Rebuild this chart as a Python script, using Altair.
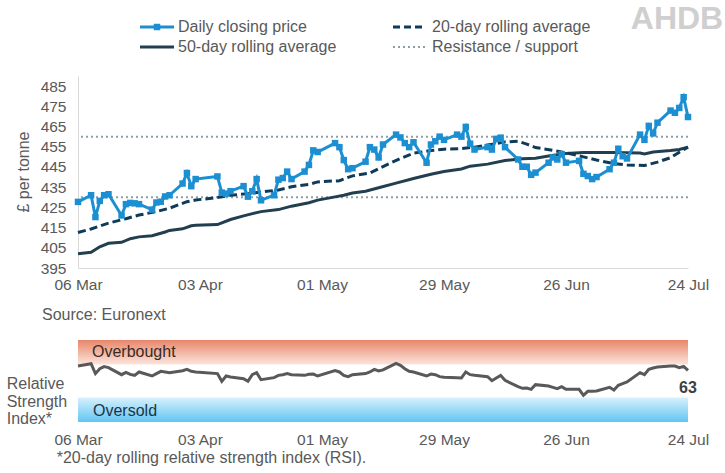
import altair as alt
import pandas as pd

# ---- data -------------------------------------------------------------
START = pd.Timestamp("2026-03-06")

# trading days, as day offsets from 6 March 2026
price_days = [0, 3, 4, 5, 6, 7, 10, 11, 12, 13, 14, 17, 18, 19, 20, 21,
              24, 25, 26, 27, 32, 33, 34, 35, 38, 39, 40, 41, 42,
              45, 46, 47, 48, 49, 52, 53, 54, 55, 59, 60, 61, 62, 63,
              66, 67, 68, 69, 70, 73, 74, 75, 76, 77, 80, 81, 82, 83, 84,
              87, 88, 89, 90, 91, 94, 95, 96, 97, 98, 101, 102, 103, 104, 105,
              108, 109, 110, 111, 112, 115, 116, 117, 118, 119,
              122, 123, 124, 125, 126, 129, 130, 131, 132, 133,
              136, 137, 138, 139, 140]
price = [427.7, 431.0, 420.2, 428.2, 431.0, 431.5, 421.0, 426.6, 427.2, 427.0, 426.6,
         423.9, 427.4, 427.8, 430.4, 431.0, 436.8, 442.0, 435.5, 439.0,
         440.3, 432.3, 431.8, 433.0, 435.5, 430.3, 433.0, 439.0, 428.5,
         431.0, 438.7, 439.5, 442.7, 439.0, 442.7, 446.0, 453.2, 452.4,
         456.8, 454.8, 448.4, 443.9, 444.4, 447.6, 454.8, 453.6, 449.7, 456.1,
         461.0, 459.6, 456.8, 454.8, 457.2, 447.1, 456.1, 457.7, 460.0, 458.4,
         461.0, 460.0, 464.8, 456.5, 453.6, 454.8, 453.6, 458.9, 459.5, 454.8,
         448.7, 445.1, 445.1, 441.1, 442.2, 447.1, 449.7, 448.7, 451.3, 447.1,
         448.0, 441.6, 440.5, 439.0, 440.0, 443.9, 447.1, 454.0, 450.3, 449.2,
         461.0, 458.4, 465.3, 461.6, 466.9, 472.9, 471.8, 474.2, 479.5, 469.7]

rsi = [68.3, 71.1, 59.0, 65.0, 67.5, 66.3, 57.7, 60.5, 58.0, 56.9, 61.0,
       56.1, 59.0, 61.8, 61.0, 60.2, 62.6, 64.2, 61.8, 61.0,
       59.0, 49.6, 56.1, 54.9, 52.8, 49.6, 57.7, 60.2, 51.6,
       54.1, 56.9, 57.7, 59.0, 57.7, 56.9, 58.1, 58.5, 56.1,
       62.6, 61.0, 56.9, 55.3, 57.7, 59.0, 61.0, 64.2, 62.2, 63.5,
       71.5, 69.1, 65.0, 61.8, 61.0, 56.1, 58.5, 57.7, 55.3, 54.5,
       54.1, 53.7, 61.0, 57.7, 56.9, 55.3, 50.4, 53.7, 56.9, 50.8,
       43.1, 41.1, 41.5, 39.8, 45.5, 43.9, 42.3, 40.7, 43.1, 39.8,
       39.8, 32.5, 37.4, 37.4, 37.8, 42.3, 39.0, 44.7, 46.8, 48.8,
       60.2, 57.7, 64.2, 65.9, 67.1, 68.3, 68.3, 66.3, 67.9, 63.0]

ma20_days = [0, 3, 7, 11, 14, 18, 21, 25, 27, 33, 35, 39, 42, 46, 49, 53, 55,
             60, 62, 63, 67, 70, 74, 77, 81, 84, 88, 91, 95, 98, 101, 103, 105,
             109, 112, 116, 119, 123, 126, 130, 133, 136, 138, 140]
ma20 = [412.6, 414.3, 417.2, 419.4, 421.2, 422.9, 424.6, 427.8, 428.6, 430.2, 431.0,
        431.8, 432.6, 433.6, 435.2, 436.4, 437.6, 438.2, 439.8, 440.6, 442.0, 445.2,
        449.2, 451.8, 453.1, 453.8, 454.1, 454.8, 456.2, 457.4, 457.7, 456.3, 454.6,
        453.2, 452.0, 450.0, 448.4, 446.6, 446.0, 445.7, 447.4, 449.6, 452.3, 454.8]

ma50_days = [0, 3, 5, 7, 10, 12, 14, 17, 20, 21, 24, 26, 27, 32, 35, 38, 42, 46,
             49, 53, 55, 59, 61, 63, 66, 69, 73, 77, 81, 84, 88, 90, 94, 98, 102,
             105, 108, 112, 116, 119, 123, 126, 129, 130, 132, 136, 138, 140]
ma50 = [402.1, 402.8, 405.5, 407.2, 407.7, 409.5, 410.4, 411.0, 412.8, 413.6, 414.4,
        415.9, 416.2, 416.5, 419.0, 420.8, 422.9, 423.9, 425.6, 427.3, 428.6, 430.2,
        431.0, 432.1, 433.0, 434.7, 437.0, 439.3, 441.4, 442.7, 444.0, 445.4, 446.4,
        448.2, 449.1, 449.3, 450.4, 451.6, 452.1, 452.1, 452.1, 452.0, 451.9, 451.4,
        452.4, 453.1, 453.6, 454.8]

levels = [460, 430]                       # resistance / support
tick_labels = ["2026-03-06", "2026-04-03", "2026-05-01",
               "2026-05-29", "2026-06-26", "2026-07-24"]
y_ticks = list(range(395, 486, 10))
legend_labels = ["Daily closing price", "20-day rolling average",
                 "50-day rolling average", "Resistance / support"]
rsi_bands = [("Overbought", 70, 100), ("Oversold", 0, 30)]


def to_dates(offsets):
    return [START + pd.Timedelta(days=d) for d in offsets]


price_df = pd.DataFrame({"date": to_dates(price_days), "value": price, "rsi": rsi})
ma20_df = pd.DataFrame({"date": to_dates(ma20_days), "value": ma20})
ma50_df = pd.DataFrame({"date": to_dates(ma50_days), "value": ma50})
level_df = pd.DataFrame({"value": levels})
band_df = pd.DataFrame(rsi_bands, columns=["band", "lo", "hi"])
last_rsi = price_df.tail(1)

# ---- styling -----------------------------------------------------------
FONT = "Liberation Sans"
GREY = "#595959"
BLUE = "#1b8fd2"
NAVY_DASH = "#0f3b58"
NAVY = "#223f50"
DOTS = "#8c9ea8"
W, H_TOP, H_BOT, GAP = 610, 192, 82, 72


def dt(s):
    t = pd.Timestamp(s)
    return alt.DateTime(year=t.year, month=t.month, date=t.day)


x_scale = alt.Scale(domain=[dt(tick_labels[0]), dt(tick_labels[-1])])
x_axis_top = alt.Axis(values=[dt(s) for s in tick_labels], format="%d %b",
                      labelFlush=False, ticks=False, grid=False,
                      domainColor="#d9d9d9", domainWidth=1, labelPadding=9, title=None)
x_axis_bot = alt.Axis(values=[dt(s) for s in tick_labels], format="%d %b",
                      labelFlush=False, ticks=False, grid=False, domain=False,
                      labelPadding=10, title=None)
y_scale = alt.Scale(domain=[395, 490], nice=False, zero=False)
y_axis = alt.Axis(values=y_ticks, ticks=False, grid=False, domainColor="#d9d9d9",
                  labelPadding=12, title=None)

X = alt.X("date:T", scale=x_scale, axis=x_axis_top)
Y = alt.Y("value:Q", scale=y_scale, axis=y_axis)

# ---- price panel -------------------------------------------------------
lvl = alt.Chart(level_df).mark_rule(color=DOTS, strokeWidth=2, strokeDash=[2, 3]).encode(
    y=alt.Y("value:Q", scale=y_scale, axis=y_axis))
l50 = alt.Chart(ma50_df).mark_line(color=NAVY, strokeWidth=3).encode(x=X, y=Y)
l20 = alt.Chart(ma20_df).mark_line(color=NAVY_DASH, strokeWidth=3, strokeDash=[8, 4]).encode(x=X, y=Y)
daily = alt.Chart(price_df).mark_line(color=BLUE, strokeWidth=3).encode(x=X, y=Y)
daily_pts = alt.Chart(price_df).mark_point(shape="square", filled=True, size=42,
                                           color=BLUE, opacity=1).encode(x=X, y=Y)

one = alt.Data(values=[{}])
# page origin anchor (invisible) so the plot sits at a fixed offset
anchor = alt.Chart(one).mark_rule(opacity=0, strokeWidth=1).encode(
    x=alt.value(-77.5), x2=alt.value(-76.5), y=alt.value(-75.5))


def legend_text(label, x, y):
    return alt.Chart(one).mark_text(text=label, align="left", baseline="middle",
                                    font=FONT, fontSize=16, color=GREY).encode(
        x=alt.value(x), y=alt.value(y))


r1, r2 = -49, -29
leg = [
    alt.Chart(one).mark_rule(color=BLUE, strokeWidth=3).encode(
        x=alt.value(62), x2=alt.value(96), y=alt.value(r1)),
    alt.Chart(one).mark_point(shape="square", filled=True, size=42, color=BLUE, opacity=1).encode(
        x=alt.value(79), y=alt.value(r1)),
    legend_text(legend_labels[0], 100, r1),
    alt.Chart(one).mark_rule(color=NAVY_DASH, strokeWidth=3, strokeDash=[7, 4]).encode(
        x=alt.value(315), x2=alt.value(347), y=alt.value(r1)),
    legend_text(legend_labels[1], 354, r1),
    alt.Chart(one).mark_rule(color=NAVY, strokeWidth=3).encode(
        x=alt.value(62), x2=alt.value(96), y=alt.value(r2)),
    legend_text(legend_labels[2], 100, r2),
    alt.Chart(one).mark_rule(color=DOTS, strokeWidth=2, strokeDash=[2, 3]).encode(
        x=alt.value(315), x2=alt.value(347), y=alt.value(r2)),
    legend_text(legend_labels[3], 354, r2),
]

# AHDB wordmark
logo = alt.Chart(one).mark_text(text="AHDB", font="'Liberation Sans Narrow', 'Liberation Sans'",
                                fontSize=32, fontWeight="bold", color="#cfcfcf",
                                align="center", baseline="middle").encode(
    x=alt.value(599), y=alt.value(-57))

ytitle = alt.Chart(one).mark_text(text="£ per tonne", font=FONT, fontSize=16, color=GREY,
                                  angle=270, align="center", baseline="middle").encode(
    x=alt.value(-54), y=alt.value(96))
source = alt.Chart(one).mark_text(text="Source: Euronext", font=FONT, fontSize=16, color=GREY,
                                  align="left", baseline="middle").encode(
    x=alt.value(-36), y=alt.value(239))

top = alt.layer(lvl, l50, l20, daily, daily_pts, anchor, *leg, logo, ytitle, source).properties(
    width=W, height=H_TOP)

# ---- RSI panel ---------------------------------------------------------
rsi_scale = alt.Scale(domain=[0, 100], nice=False)
XB = alt.X("date:T", scale=x_scale, axis=x_axis_bot)

ob_fill = alt.Gradient(gradient="linear", x1=0, y1=0, x2=0, y2=1, stops=[
    alt.GradientStop(color="#e8866a", offset=0), alt.GradientStop(color="#fbe5dd", offset=1)])
os_fill = alt.Gradient(gradient="linear", x1=0, y1=0, x2=0, y2=1, stops=[
    alt.GradientStop(color="#d8f1fc", offset=0), alt.GradientStop(color="#62c5f3", offset=1)])

ob = alt.Chart(band_df).transform_filter(alt.datum.band == "Overbought").mark_rect(color=ob_fill).encode(
    x=alt.value(0), x2=alt.value(W),
    y=alt.Y("lo:Q", scale=rsi_scale, axis=None), y2="hi:Q")
osd = alt.Chart(band_df).transform_filter(alt.datum.band == "Oversold").mark_rect(color=os_fill).encode(
    x=alt.value(0), x2=alt.value(W),
    y=alt.Y("lo:Q", scale=rsi_scale, axis=None), y2="hi:Q")
ob_txt = alt.Chart(one).mark_text(text="Overbought", font=FONT, fontSize=16, color="#3b2a22",
                                  align="left", baseline="middle").encode(x=alt.value(14), y=alt.value(12))
os_txt = alt.Chart(one).mark_text(text="Oversold", font=FONT, fontSize=16, color="#1b3446",
                                  align="left", baseline="middle").encode(x=alt.value(15), y=alt.value(71))
rsi_line = alt.Chart(price_df).mark_line(color=GREY, strokeWidth=3).encode(
    x=XB, y=alt.Y("rsi:Q", scale=rsi_scale, axis=None))
rsi_lab = alt.Chart(last_rsi).mark_text(font=FONT, fontSize=16, fontWeight="bold", color="#404040",
                                        align="center", baseline="middle", dy=18).encode(
    x=XB, y=alt.Y("rsi:Q", scale=rsi_scale, axis=None), text=alt.Text("rsi:Q", format=".0f"))
rsi_title = alt.Chart(one).mark_text(text=["Relative", "Strength", "Index*"], font=FONT, fontSize=16,
                                     color=GREY, align="left", baseline="middle",
                                     lineHeight=17.5).encode(x=alt.value(-71.3), y=alt.value(44))
foot = alt.Chart(one).mark_text(text="*20-day rolling relative strength index (RSI).", font=FONT,
                                fontSize=16, color=GREY, align="left", baseline="middle").encode(
    x=alt.value(-21.3), y=alt.value(118))

bottom = alt.layer(ob, osd, ob_txt, os_txt, rsi_line, rsi_lab, rsi_title, foot).properties(
    width=W, height=H_BOT)

chart = alt.vconcat(top, bottom, spacing=GAP, bounds="flush").properties(
    padding=0
).configure_view(strokeWidth=0).configure_axis(
    labelFont=FONT, labelFontSize=15.5, labelColor=GREY
)

chart.save("out.html", embed_options={"renderer": "svg", "actions": False})
